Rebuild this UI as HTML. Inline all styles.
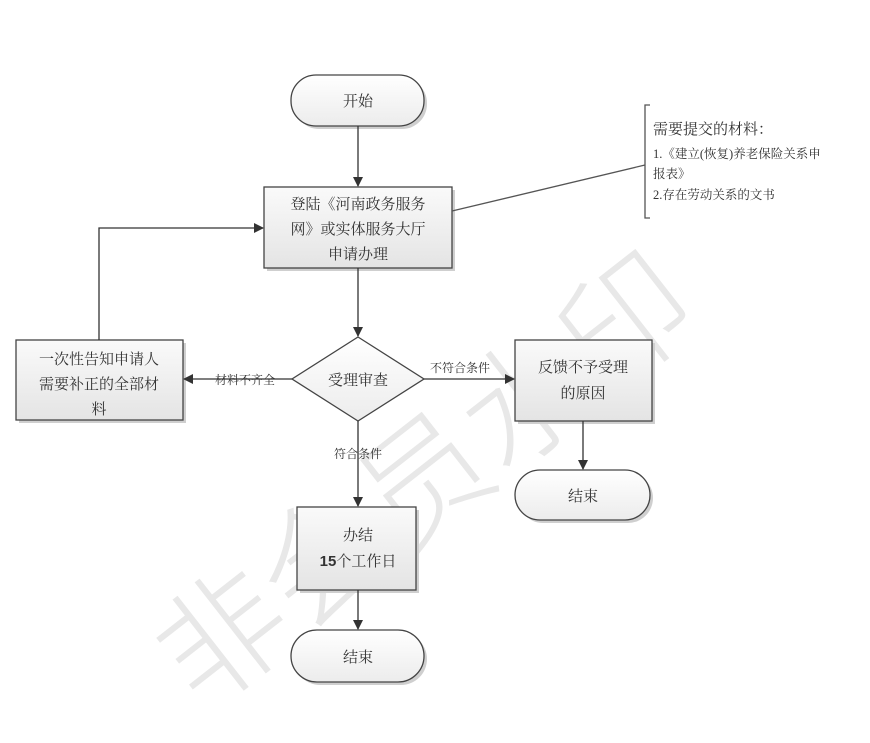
<!DOCTYPE html>
<html><head><meta charset="utf-8"><style>
html,body{margin:0;padding:0;background:#fff;overflow:hidden;width:870px;height:743px;}
svg{display:block;}
text{font-family:"Liberation Serif","Noto Serif CJK SC","Noto Sans CJK SC",serif;fill:#333;}
</style></head><body>
<svg width="870" height="743" viewBox="0 0 870 743" xmlns="http://www.w3.org/2000/svg">
<defs>
<linearGradient id="g" x1="0" y1="0" x2="0" y2="1"><stop offset="0" stop-color="#fafafa"/><stop offset="1" stop-color="#e4e4e4"/></linearGradient>
<linearGradient id="g2" x1="0" y1="0" x2="0" y2="1"><stop offset="0" stop-color="#ffffff"/><stop offset="1" stop-color="#ececec"/></linearGradient>
<marker id="a" markerWidth="10" markerHeight="10" refX="9" refY="5" orient="auto" markerUnits="userSpaceOnUse"><path d="M0,0 L10,5 L0,10 z" fill="#333"/></marker>
</defs>
<g transform="translate(425,480) rotate(-38)">
<text x="0" y="45" text-anchor="middle" font-size="128" style="fill:#e8e8e8;font-family:'Noto Sans CJK SC',sans-serif;font-weight:300">非会员水印</text>
</g>
<g fill="#cfcfcf">
<rect x="294" y="78" width="133" height="51" rx="25"/>
<rect x="267" y="190" width="188" height="81"/>
<rect x="19" y="343" width="167" height="80"/>
<rect x="518" y="343" width="137" height="81"/>
<rect x="518" y="473" width="135" height="50" rx="25"/>
<rect x="300" y="510" width="119" height="83"/>
<rect x="294" y="633" width="133" height="52" rx="26"/>
</g>
<g stroke="#444" stroke-width="1.3">
<rect x="291" y="75" width="133" height="51" rx="25" fill="url(#g2)"/>
<rect x="264" y="187" width="188" height="81" fill="url(#g)"/>
<rect x="16" y="340" width="167" height="80" fill="url(#g)"/>
<rect x="515" y="340" width="137" height="81" fill="url(#g)"/>
<polygon points="358,337 424,379 358,421 292,379" fill="url(#g2)"/>
<rect x="515" y="470" width="135" height="50" rx="25" fill="url(#g2)"/>
<rect x="297" y="507" width="119" height="83" fill="url(#g)"/>
<rect x="291" y="630" width="133" height="52" rx="26" fill="url(#g2)"/>
</g>
<g stroke="#333" stroke-width="1.3" fill="none">
<line x1="358" y1="126" x2="358" y2="186" marker-end="url(#a)"/>
<line x1="358" y1="268" x2="358" y2="336" marker-end="url(#a)"/>
<line x1="358" y1="421" x2="358" y2="506" marker-end="url(#a)"/>
<line x1="358" y1="590" x2="358" y2="629" marker-end="url(#a)"/>
<line x1="583" y1="421" x2="583" y2="469" marker-end="url(#a)"/>
<line x1="424" y1="379" x2="514" y2="379" marker-end="url(#a)"/>
<line x1="292" y1="379" x2="184" y2="379" marker-end="url(#a)"/>
<polyline points="99,340 99,228 263,228" marker-end="url(#a)"/>
<line x1="452" y1="211" x2="645" y2="165" stroke="#555"/>
<polyline points="650,105 645,105 645,218 650,218" stroke="#555"/>
</g>
<g font-size="15" text-anchor="middle">
<text x="358" y="106">开始</text>
<text x="358" y="209">登陆《河南政务服务</text>
<text x="358" y="234">网》或实体服务大厅</text>
<text x="358" y="259">申请办理</text>
<text x="99" y="364">一次性告知申请人</text>
<text x="99" y="389">需要补正的全部材</text>
<text x="99" y="414">料</text>
<text x="358" y="385">受理审查</text>
<text x="583" y="372">反馈不予受理</text>
<text x="583" y="398">的原因</text>
<text x="583" y="501">结束</text>
<text x="358" y="540">办结</text>
<text x="358" y="566"><tspan font-weight="bold" font-family="Liberation Sans,sans-serif">15</tspan>个工作日</text>
<text x="358" y="662">结束</text>
</g>
<g font-size="12">
<text x="245" y="384" text-anchor="middle">材料不齐全</text>
<text x="460" y="372" text-anchor="middle">不符合条件</text>
<text x="358" y="458" text-anchor="middle">符合条件</text>
</g>
<text x="653" y="134" font-size="15">需要提交的材料：</text>
<g font-size="12.5">
<text x="653" y="158">1.《建立(恢复)养老保险关系申</text>
<text x="653" y="178">报表》</text>
<text x="653" y="199">2.存在劳动关系的文书</text>
</g>
</svg>
</body></html>
